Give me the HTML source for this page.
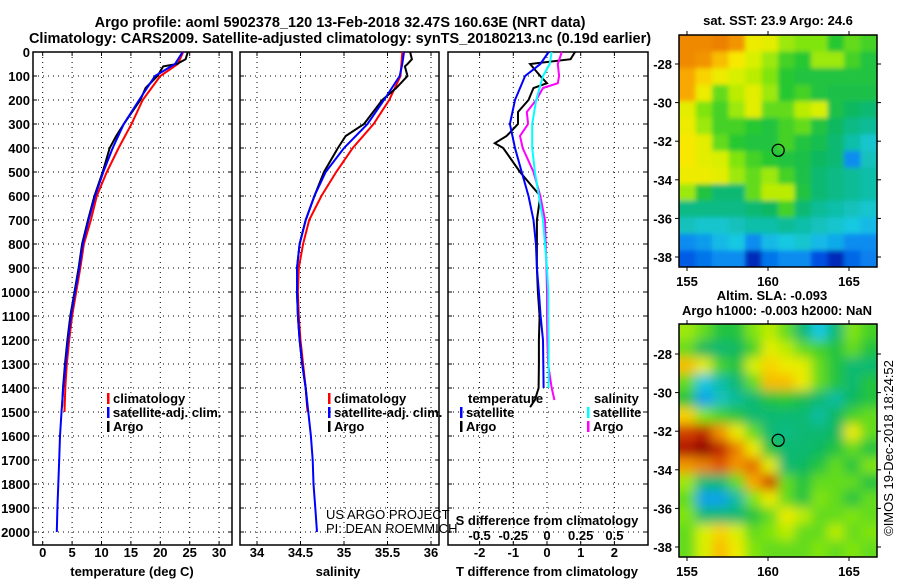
<!DOCTYPE html>
<html><head><meta charset="utf-8"><style>
body{margin:0;background:#fff}
svg{display:block;font-family:"Liberation Sans",Arial,sans-serif;font-weight:bold}
</style></head><body>
<svg id="s" width="900" height="580" viewBox="0 0 900 580" xmlns="http://www.w3.org/2000/svg">
<defs>
<filter id="bl2" x="-5%" y="-5%" width="110%" height="110%"><feGaussianBlur stdDeviation="5.5"/></filter>
<filter id="bl1" x="-5%" y="-5%" width="110%" height="110%"><feGaussianBlur stdDeviation="2.5"/></filter>
<clipPath id="c1"><rect x="679" y="35" width="198" height="232"/></clipPath>
<clipPath id="c2"><rect x="679" y="324" width="198" height="233"/></clipPath>
</defs>
<text x="340" y="27" font-size="14.5" text-anchor="middle">Argo profile: aoml 5902378_120 13-Feb-2018 32.47S 160.63E (NRT data)</text>
<text x="340" y="43" font-size="14.5" text-anchor="middle">Climatology: CARS2009. Satellite-adjusted climatology: synTS_20180213.nc (0.19d earlier)</text>
<g id="g"></g>
</svg>
<script>
// ---- data ----
const depthsT = [0,50,100,200,300,400,500,600,700,800,900,1000,1100,1200,1300,1400,1500,1600,1700,1800,1900,2000];
const tempSat = [23.8,22.5,19.1,16.4,13.8,11.9,10.3,8.9,7.8,6.8,6.2,5.5,4.8,4.3,3.9,3.5,3.2,2.95,2.8,2.65,2.5,2.4];
const depthsClim = [0,50,100,200,300,400,500,600,700,800,900,1000,1100,1200,1300,1400,1500];
const tempClim = [23.9,23.0,20.0,17.0,15.1,12.9,10.9,9.2,8.2,7.0,6.4,5.7,5.0,4.5,4.1,3.85,3.7];
const depthsArgo = [0,30,50,60,100,150,200,300,350,400,500,600,700,800,900,1000,1100,1200,1300,1400,1480];
const tempArgo = [24.7,24.3,22.8,20.5,19.5,17.5,16.6,13.8,12.5,11.4,10.2,8.8,7.7,6.7,6.1,5.4,4.7,4.2,3.8,3.45,3.3];
const salSat = [35.69,35.67,35.64,35.46,35.27,35.0,34.79,34.66,34.56,34.49,34.46,34.46,34.47,34.49,34.52,34.56,34.59,34.62,34.64,34.65,34.67,34.69];
const salClim = [35.67,35.66,35.65,35.52,35.34,35.10,34.91,34.74,34.60,34.53,34.48,34.47,34.48,34.50,34.53,34.56,34.58];
const salArgo = [35.76,35.78,35.73,35.70,35.73,35.60,35.44,35.23,35.02,34.93,34.77,34.66,34.56,34.49,34.46,34.46,34.47,34.49,34.52,34.56,34.58];
const depthsD = [0,30,50,100,130,150,200,250,300,350,380,400,450,500,550,600,650,700,800,900,1000,1100,1200,1300,1400,1450,1480];
const dTArgo = [0.83,0.7,-0.5,-0.2,0.0,-0.4,-0.55,-0.86,-0.86,-1.2,-1.55,-1.3,-1.05,-0.8,-0.5,-0.2,-0.25,-0.3,-0.3,-0.3,-0.27,-0.22,-0.24,-0.24,-0.25,-0.36,-0.5];
const depthsDS = [0,50,100,200,300,400,500,600,700,800,900,1000,1100,1200,1300,1400];
const dTSat = [0.05,-0.2,-0.65,-0.95,-1.1,-0.95,-0.75,-0.55,-0.4,-0.33,-0.3,-0.24,-0.19,-0.12,-0.11,-0.1];
const dSSat = [0.035,0.02,-0.03,-0.08,-0.11,-0.11,-0.09,-0.06,-0.03,-0.015,0,0.01,0.01,0.012,0.012,0.012];
const depthsDSA = [0,50,100,130,150,200,250,300,350,400,450,500,600,700,800,900,1000,1100,1200,1300,1400,1450];
const dSArgo = [0.11,0.08,0.09,0.08,-0.03,-0.08,-0.15,-0.14,-0.2,-0.18,-0.14,-0.1,-0.05,-0.015,-0.01,-0.004,0,0,0.002,0.008,0.035,0.055];
const depthTicks = [0,100,200,300,400,500,600,700,800,900,1000,1100,1200,1300,1400,1500,1600,1700,1800,1900,2000];
const tTicks = [0,5,10,15,20,25,30];
const sTicks = [34,34.5,35,35.5,36];
const dTTicks = [-2,-1,0,1,2];
const dSTicks = [-0.5,-0.25,0,0.25,0.5];
const latTicks = [-28,-30,-32,-34,-36,-38];
const lonTicks = [155,160,165];
const sstGrid = [
[0.85,0.85,0.86,0.84,0.74,0.72,0.66,0.64,0.64,0.58,0.62,0.6],
[0.85,0.84,0.8,0.76,0.7,0.66,0.6,0.58,0.66,0.66,0.6,0.56],
[0.82,0.78,0.74,0.7,0.68,0.64,0.58,0.56,0.56,0.56,0.56,0.56],
[0.82,0.74,0.62,0.68,0.72,0.66,0.58,0.6,0.56,0.55,0.55,0.55],
[0.72,0.64,0.6,0.66,0.72,0.62,0.62,0.68,0.7,0.55,0.52,0.5],
[0.74,0.66,0.6,0.6,0.58,0.56,0.6,0.62,0.56,0.52,0.48,0.46],
[0.76,0.72,0.62,0.58,0.56,0.56,0.6,0.56,0.54,0.5,0.44,0.4],
[0.76,0.72,0.7,0.64,0.6,0.58,0.56,0.55,0.52,0.5,0.3,0.42],
[0.74,0.74,0.72,0.66,0.62,0.66,0.6,0.55,0.5,0.48,0.46,0.44],
[0.66,0.56,0.5,0.5,0.62,0.68,0.68,0.56,0.5,0.48,0.46,0.44],
[0.48,0.48,0.48,0.48,0.5,0.52,0.6,0.5,0.46,0.44,0.42,0.4],
[0.42,0.4,0.4,0.42,0.44,0.44,0.46,0.44,0.42,0.4,0.38,0.36],
[0.3,0.32,0.36,0.38,0.3,0.36,0.38,0.4,0.36,0.34,0.3,0.3],
[0.22,0.26,0.3,0.3,0.14,0.26,0.3,0.3,0.2,0.14,0.24,0.28]];
const slaGrid = [
[0.66,0.62,0.56,0.56,0.64,0.68,0.62,0.5,0.38,0.5,0.64,0.6],
[0.62,0.52,0.5,0.52,0.6,0.72,0.68,0.62,0.6,0.56,0.62,0.56],
[0.8,0.72,0.6,0.56,0.7,0.78,0.74,0.72,0.62,0.56,0.5,0.5],
[0.62,0.38,0.44,0.5,0.62,0.8,0.8,0.74,0.62,0.56,0.5,0.56],
[0.56,0.33,0.42,0.46,0.5,0.56,0.58,0.54,0.5,0.45,0.52,0.56],
[0.78,0.64,0.6,0.56,0.5,0.5,0.5,0.5,0.45,0.52,0.6,0.62],
[0.92,0.94,0.84,0.74,0.62,0.5,0.48,0.5,0.5,0.52,0.74,0.62],
[0.96,1.0,0.94,0.86,0.74,0.56,0.5,0.5,0.52,0.56,0.62,0.56],
[0.84,0.86,0.9,0.84,0.88,0.72,0.5,0.52,0.56,0.62,0.56,0.64],
[0.66,0.5,0.5,0.62,0.82,0.92,0.62,0.56,0.62,0.62,0.62,0.56],
[0.62,0.33,0.33,0.45,0.64,0.74,0.62,0.56,0.64,0.62,0.56,0.62],
[0.64,0.5,0.5,0.5,0.56,0.62,0.74,0.68,0.62,0.62,0.64,0.62],
[0.62,0.7,0.78,0.7,0.62,0.64,0.68,0.62,0.62,0.68,0.62,0.64],
[0.62,0.7,0.8,0.74,0.64,0.62,0.62,0.62,0.64,0.62,0.64,0.62]];
const argoLon = 160.63, argoLat = -32.47;

// ---- helpers ----
const NS='http://www.w3.org/2000/svg';
const G=document.getElementById('g');
function el(tag,attrs,parent){const e=document.createElementNS(NS,tag);for(const k in attrs)e.setAttribute(k,attrs[k]);(parent||G).appendChild(e);return e;}
function txt(x,y,s,size,anchor,parent){const t=el('text',{x:x,y:y,'font-size':size,'text-anchor':anchor||'middle'},parent);t.textContent=s;return t;}
const yD = d => 52 + d*0.24;
const xT = v => 42.7 + v*5.88;
const xS = v => 257 + (v-34)*87;
const xDT = v => 547 + v*33.7;
const xDS = v => 547 + v*134.8;
const BT=52, BB=545;

function panel(name,L,R,ticks,xf,labels){
  const g=el('g',{});
  
  
  ticks.forEach(t=>{el('line',{x1:xf(t),x2:xf(t),y1:BT,y2:BB,stroke:'#000','stroke-width':1,'stroke-dasharray':'1 4'},g);
    el('line',{x1:xf(t),x2:xf(t),y1:BT,y2:BT+4,stroke:'#000'},g);el('line',{x1:xf(t),x2:xf(t),y1:BB,y2:BB-4,stroke:'#000'},g);});
  depthTicks.forEach(d=>{el('line',{x1:L,x2:R,y1:yD(d),y2:yD(d),stroke:'#000','stroke-width':1,'stroke-dasharray':'1 4'},g);
    el('line',{x1:L,x2:L+4,y1:yD(d),y2:yD(d),stroke:'#000'},g);el('line',{x1:R,x2:R-4,y1:yD(d),y2:yD(d),stroke:'#000'},g);});
  el('rect',{x:L,y:BT,width:R-L,height:BB-BT,fill:'none',stroke:'#000','stroke-width':1.5},g);
  if(labels) ticks.forEach((t,i)=>txt(xf(t),557,labels[i],13,'middle',g));
  return g;
}
function line(name,ds,vs,xf,color){
  const p=ds.map((d,i)=>xf(vs[i]).toFixed(1)+','+yD(d).toFixed(1)).join(' ');
  const e=el('polyline',{points:p,fill:'none',stroke:color,'stroke-width':2});
  
  
}
function legend(x,y,items,parent){
  items.forEach((it,i)=>{el('rect',{x:x,y:y+i*14-10,width:2.5,height:11,fill:it[1]},parent);txt(x+6,y+i*14,it[0],13,'start',parent);});
}

const dl=el('g',{});


depthTicks.forEach(d=>txt(30,yD(d)+5,String(d),13,'end',dl));

const p1=panel('temperature-panel',33,232,tTicks,xT,tTicks.map(String));
txt(132,576,'temperature (deg C)',13,'middle',p1);
line('temp-climatology',depthsClim,tempClim,xT,'#f00');
line('temp-argo',depthsArgo,tempArgo,xT,'#000');
line('temp-satellite',depthsT,tempSat,xT,'#00f');
const lg1=el('g',{});
legend(107,403,[['climatology','#f00'],['satellite-adj. clim.','#00f'],['Argo','#000']],lg1);

const p2=panel('salinity-panel',240,439,sTicks,xS,['34','34.5','35','35.5','36']);
txt(338,576,'salinity',13,'middle',p2);
line('sal-climatology',depthsClim,salClim,xS,'#f00');
line('sal-argo',depthsArgo,salArgo,xS,'#000');
line('sal-satellite',depthsT,salSat,xS,'#00f');
const lg2=el('g',{});
legend(328,403,[['climatology','#f00'],['satellite-adj. clim.','#00f'],['Argo','#000']],lg2);
const cr=el('g',{});
txt(326,519,'US ARGO PROJECT',13,'start',cr).setAttribute('font-weight','normal');
txt(326,533,'PI: DEAN ROEMMICH',13,'start',cr).setAttribute('font-weight','normal');

const p3=panel('difference-panel',448,648,dTTicks,xDT,['-2','-1','0','1','2']);
txt(547,576,'T difference from climatology',13,'middle',p3);
txt(547,525,'S difference from climatology',13,'middle',p3);
dSTicks.forEach(v=>txt(xDS(v),540,String(v),13,'middle',p3));
line('dT-argo',depthsD,dTArgo,xDT,'#000');
line('dS-argo',depthsDSA,dSArgo,xDS,'#f0f');
line('dS-satellite',depthsDS,dSSat,xDS,'#0ff');
line('dT-satellite',depthsDS,dTSat,xDT,'#00f');
const lg3=el('g',{});
txt(468,403,'temperature',13,'start',lg3);
legend(460,417,[['satellite','#00f'],['Argo','#000']],lg3);
txt(594,403,'salinity',13,'start',lg3);
legend(587,417,[['satellite','#0ff'],['Argo','#f0f']],lg3);

const stops=[[0,[0,0,130]],[0.1,[10,20,160]],[0.2,[0,80,225]],[0.3,[10,140,240]],[0.38,[20,200,225]],[0.45,[16,188,160]],[0.52,[16,184,96]],[0.58,[40,200,48]],[0.64,[128,228,16]],[0.7,[216,240,0]],[0.76,[248,232,0]],[0.82,[248,168,0]],[0.9,[224,88,0]],[0.96,[176,16,0]],[1,[144,0,0]]];
function cmap(v){for(let i=1;i<stops.length;i++){if(v<=stops[i][0]){const a=stops[i-1],b=stops[i],t=(v-a[0])/(b[0]-a[0]);return 'rgb('+a[1].map((c,k)=>Math.round(c+(b[1][k]-c)*t)).join(',')+')';}}return 'rgb(144,0,0)';}

function map(name,grid,T,B,blur){
  const L=679,R=877,W=R-L,H=B-T;
  const g=el('g',{});
  
  
  const cg=el('g',{'clip-path':'url(#'+(T<100?'c1':'c2')+')'},g);
  const inner=el('g',{filter:'url(#'+blur+')'},cg);
  const rows=grid.length,cols=grid[0].length,cw=W/cols,ch=H/rows;
  el('rect',{x:L-10,y:T-10,width:W+20,height:H+20,fill:cmap(0.55)},inner);
  grid.forEach((row,r)=>row.forEach((v,c)=>{
    el('rect',{x:L+c*cw-(c==0?10:0),y:T+r*ch-(r==0?10:0),width:cw+0.5+(c==0||c==cols-1?10:0),height:ch+0.5+(r==0||r==rows-1?10:0),fill:cmap(v)},inner);
  }));
  const y28=T<100?64:354, pyl=(T<100?257:547)-y28;
  const yLat=lat=>y28+(-28-lat)/10*pyl;
  const xLon=lon=>687+(lon-155)*16.2;
  el('rect',{x:L,y:T,width:W,height:H,fill:'none',stroke:'#000','stroke-width':1.5},g);
  latTicks.forEach(l=>{const y=yLat(l);el('line',{x1:L-4,x2:L,y1:y,y2:y,stroke:'#000'},g);el('line',{x1:R,x2:R+4,y1:y,y2:y,stroke:'#000'},g);txt(L-7,y+5,String(l),13,'end',g);});
  lonTicks.forEach(l=>{const x=xLon(l);el('line',{x1:x,x2:x,y1:T-4,y2:T,stroke:'#000'},g);el('line',{x1:x,x2:x,y1:B,y2:B+4,stroke:'#000'},g);txt(x,B+19,String(l),13,'middle',g);});
  const c=el('circle',{cx:xLon(argoLon),cy:yLat(argoLat),r:6,fill:'none',stroke:'#000','stroke-width':1.3},g);
  
  
  return g;
}
map('sst-map',sstGrid,35,267,'bl1');
map('sla-map',slaGrid,324,557,'bl2');
const mt=el('g',{});
txt(778,25,'sat. SST: 23.9 Argo: 24.6',13,'middle',mt);
txt(772,300,'Altim. SLA: -0.093',13,'middle',mt);
txt(777,315,'Argo h1000: -0.003 h2000: NaN',13,'middle',mt);
const cp=txt(0,0,'©IMOS 19-Dec-2018 18:24:52',13,'middle');
cp.setAttribute('font-weight','normal');
cp.setAttribute('transform','translate(893,448) rotate(-90)');


</script>
</body></html>
